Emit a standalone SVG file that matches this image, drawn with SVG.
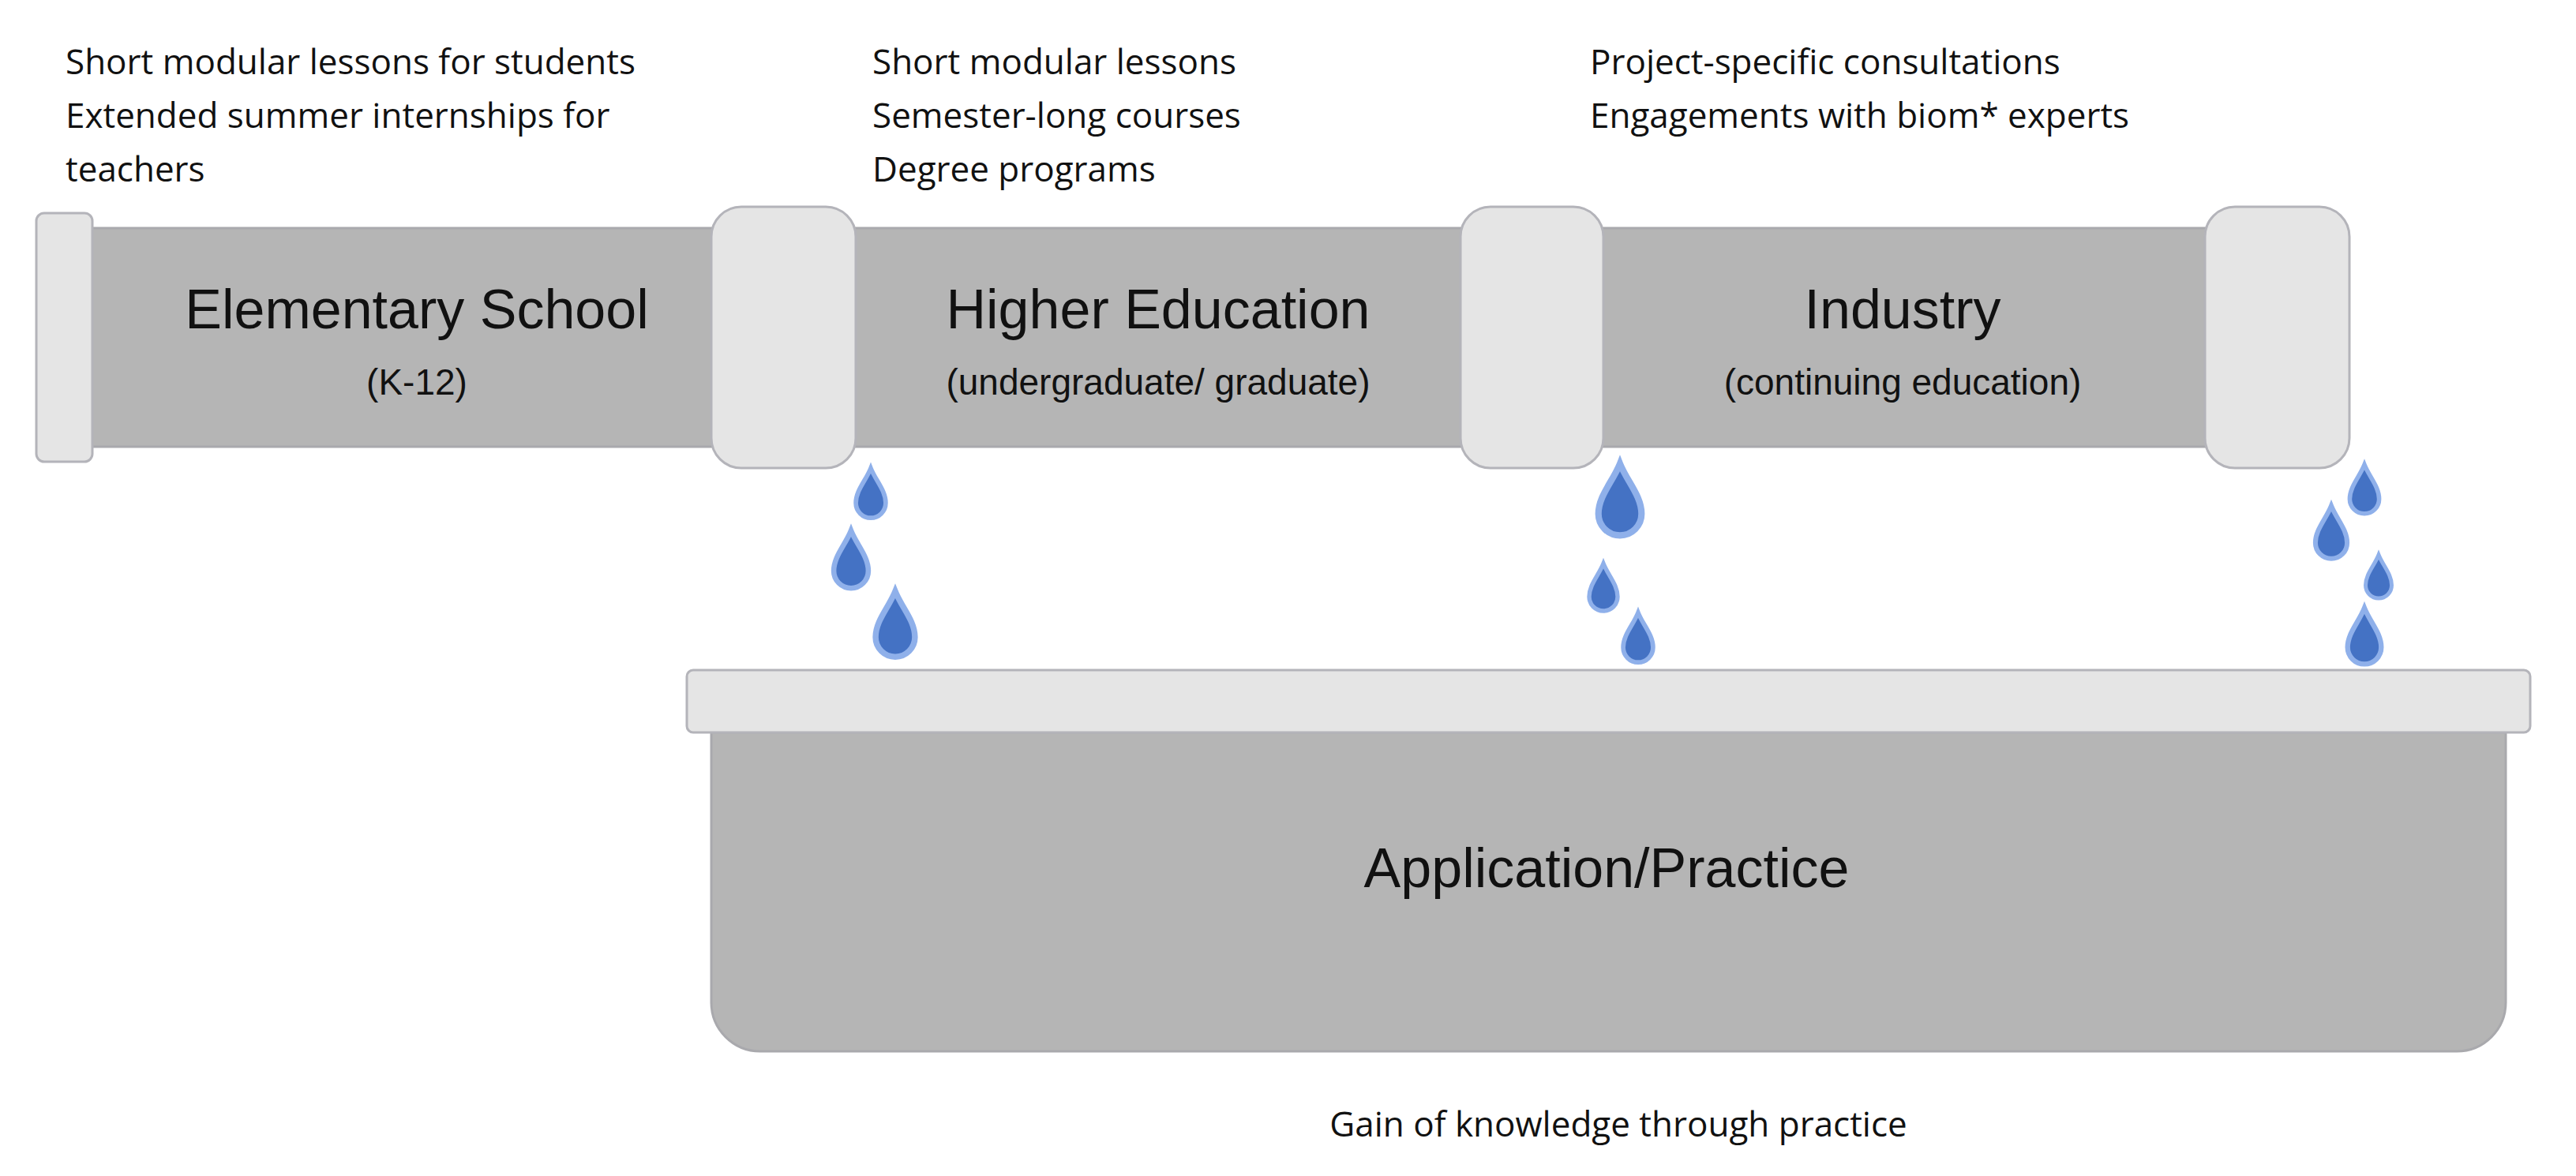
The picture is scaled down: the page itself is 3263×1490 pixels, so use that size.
<svg xmlns="http://www.w3.org/2000/svg" xmlns:xlink="http://www.w3.org/1999/xlink" width="3263" height="1490" viewBox="0 0 3263 1490">
<style>
.body{fill:#b5b5b5;stroke:#a9a9ad;stroke-width:3}
.cap{fill:#e5e5e5;stroke:#b4b4ba;stroke-width:3}
.big{font-family:"Liberation Sans",Arial,sans-serif;font-size:70px;fill:#111;text-anchor:middle}
.sub{font-family:"Liberation Sans",Arial,sans-serif;font-size:46px;fill:#111;text-anchor:middle}
.note{font-family:"Open Sans","Liberation Sans",sans-serif;font-size:44px;fill:#111}
.drop{fill:#4472c4;stroke:#8fb0ea;stroke-width:9}
</style>
<defs>
<path id="d" class="drop" d="M0,-60 C10,-35 30,-15 30,10 A30,30 0 1 1 -30,10 C-30,-15 -10,-35 0,-60 Z"/>
</defs>
<g id="notes">
<text class="note" x="83" y="94">Short modular lessons for students</text>
<text class="note" x="83" y="162">Extended summer internships for</text>
<text class="note" x="83" y="230">teachers</text>
<text class="note" x="1105" y="94">Short modular lessons</text>
<text class="note" x="1105" y="162">Semester-long courses</text>
<text class="note" x="1105" y="230">Degree programs</text>
<text class="note" x="2014" y="94">Project-specific consultations</text>
<text class="note" x="2014" y="162">Engagements with biom* experts</text>
</g>
<g id="pipe">
<rect class="body" x="110" y="289" width="2700" height="277"/>
<rect class="cap" x="46" y="270" width="71" height="315" rx="10"/>
</g>
<g id="elementary">
<text class="big" x="528" y="416">Elementary School</text>
<text class="sub" x="528" y="500">(K-12)</text>
</g>
<g id="higher">
<rect class="cap" x="901" y="262" width="183" height="331" rx="38"/>
<text class="big" x="1467" y="416">Higher Education</text>
<text class="sub" x="1467" y="500">(undergraduate/ graduate)</text>
</g>
<g id="industry">
<rect class="cap" x="1850" y="262" width="181" height="331" rx="38"/>
<rect class="cap" x="2793" y="262" width="183" height="331" rx="38"/>
<text class="big" x="2410" y="416">Industry</text>
<text class="sub" x="2410" y="500">(continuing education)</text>
</g>
<g id="drops">
<use xlink:href="#d" transform="translate(1103,631) scale(0.63)"/>
<use xlink:href="#d" transform="translate(1078,716) scale(0.73)"/>
<use xlink:href="#d" transform="translate(1134,799) scale(0.83)"/>
<use xlink:href="#d" transform="translate(2052,642) scale(0.91)"/>
<use xlink:href="#d" transform="translate(2031,750) scale(0.60)"/>
<use xlink:href="#d" transform="translate(2075,814) scale(0.63)"/>
<use xlink:href="#d" transform="translate(2995,626) scale(0.62)"/>
<use xlink:href="#d" transform="translate(2953,681) scale(0.67)"/>
<use xlink:href="#d" transform="translate(3013,736) scale(0.55)"/>
<use xlink:href="#d" transform="translate(2995,813) scale(0.71)"/>
</g>
<g id="application">
<path class="body" d="M901,928 H3174 V1270 A62,62 0 0 1 3112,1332 H963 A62,62 0 0 1 901,1270 Z"/>
<rect class="cap" x="870" y="849" width="2335" height="79" rx="8"/>
<text class="big" x="2035" y="1124">Application/Practice</text>
</g>
<g id="caption">
<text class="note" x="2050" y="1440" text-anchor="middle">Gain of knowledge through practice</text>
</g>
</svg>
